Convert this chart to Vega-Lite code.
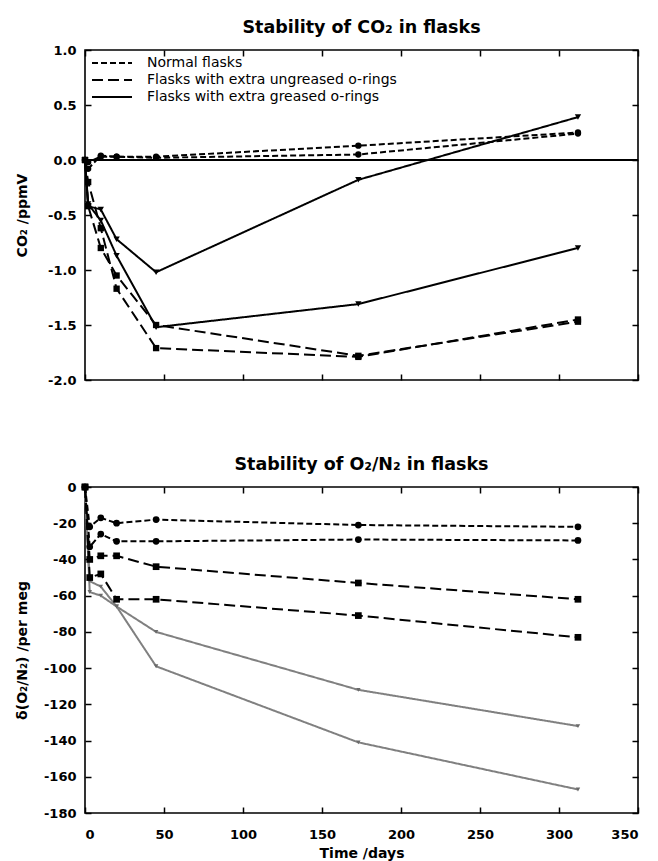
{
  "$schema": "https://vega.github.io/schema/vega-lite/v6.json",
  "padding": {"left": 14, "top": 17, "right": 10, "bottom": 5},
  "background": "white",
  "config": {
    "font": "DejaVu Sans",
    "view": {"stroke": "black", "strokeWidth": 1.6},
    "axis": {"labelFont": "DejaVu Sans", "labelFontWeight": "bold", "labelFontSize": 13, "labelColor": "black", "titleColor": "black", "titleFont": "DejaVu Sans", "titleFontWeight": "bold", "titleFontSize": 14, "tickColor": "black", "tickSize": -6, "tickWidth": 1.5, "domain": false, "grid": false, "labelPadding": 15},
    "title": {"fontSize": 17.5, "fontWeight": "bold", "color": "black", "offset": 8, "font": "DejaVu Sans"}
  },
  "datasets": {
    "co2": [
      {"type": "Flasks with extra greased o-rings", "flask": "G1", "day": 0, "value": 0},
      {"type": "Flasks with extra greased o-rings", "flask": "G1", "day": 2, "value": -0.42},
      {"type": "Flasks with extra greased o-rings", "flask": "G1", "day": 10, "value": -0.45},
      {"type": "Flasks with extra greased o-rings", "flask": "G1", "day": 20, "value": -0.72},
      {"type": "Flasks with extra greased o-rings", "flask": "G1", "day": 45, "value": -1.02},
      {"type": "Flasks with extra greased o-rings", "flask": "G1", "day": 173, "value": -0.18},
      {"type": "Flasks with extra greased o-rings", "flask": "G1", "day": 312, "value": 0.39},
      {"type": "Flasks with extra greased o-rings", "flask": "G2", "day": 0, "value": 0},
      {"type": "Flasks with extra greased o-rings", "flask": "G2", "day": 2, "value": -0.4},
      {"type": "Flasks with extra greased o-rings", "flask": "G2", "day": 10, "value": -0.55},
      {"type": "Flasks with extra greased o-rings", "flask": "G2", "day": 20, "value": -0.87},
      {"type": "Flasks with extra greased o-rings", "flask": "G2", "day": 45, "value": -1.52},
      {"type": "Flasks with extra greased o-rings", "flask": "G2", "day": 173, "value": -1.31},
      {"type": "Flasks with extra greased o-rings", "flask": "G2", "day": 312, "value": -0.8},
      {"type": "Flasks with extra ungreased o-rings", "flask": "U1", "day": 0, "value": 0},
      {"type": "Flasks with extra ungreased o-rings", "flask": "U1", "day": 2, "value": -0.2},
      {"type": "Flasks with extra ungreased o-rings", "flask": "U1", "day": 10, "value": -0.62},
      {"type": "Flasks with extra ungreased o-rings", "flask": "U1", "day": 20, "value": -1.17},
      {"type": "Flasks with extra ungreased o-rings", "flask": "U1", "day": 45, "value": -1.71},
      {"type": "Flasks with extra ungreased o-rings", "flask": "U1", "day": 173, "value": -1.79},
      {"type": "Flasks with extra ungreased o-rings", "flask": "U1", "day": 312, "value": -1.45},
      {"type": "Flasks with extra ungreased o-rings", "flask": "U2", "day": 0, "value": 0},
      {"type": "Flasks with extra ungreased o-rings", "flask": "U2", "day": 2, "value": -0.42},
      {"type": "Flasks with extra ungreased o-rings", "flask": "U2", "day": 10, "value": -0.8},
      {"type": "Flasks with extra ungreased o-rings", "flask": "U2", "day": 20, "value": -1.05},
      {"type": "Flasks with extra ungreased o-rings", "flask": "U2", "day": 45, "value": -1.5},
      {"type": "Flasks with extra ungreased o-rings", "flask": "U2", "day": 173, "value": -1.78},
      {"type": "Flasks with extra ungreased o-rings", "flask": "U2", "day": 312, "value": -1.47},
      {"type": "Normal flasks", "flask": "N1", "day": 0, "value": 0},
      {"type": "Normal flasks", "flask": "N1", "day": 2, "value": -0.08},
      {"type": "Normal flasks", "flask": "N1", "day": 10, "value": 0.04},
      {"type": "Normal flasks", "flask": "N1", "day": 20, "value": 0.03},
      {"type": "Normal flasks", "flask": "N1", "day": 45, "value": 0.03},
      {"type": "Normal flasks", "flask": "N1", "day": 173, "value": 0.13},
      {"type": "Normal flasks", "flask": "N1", "day": 312, "value": 0.25},
      {"type": "Normal flasks", "flask": "N2", "day": 0, "value": 0},
      {"type": "Normal flasks", "flask": "N2", "day": 2, "value": -0.02},
      {"type": "Normal flasks", "flask": "N2", "day": 10, "value": 0.03},
      {"type": "Normal flasks", "flask": "N2", "day": 20, "value": 0.03},
      {"type": "Normal flasks", "flask": "N2", "day": 45, "value": 0.02},
      {"type": "Normal flasks", "flask": "N2", "day": 173, "value": 0.05},
      {"type": "Normal flasks", "flask": "N2", "day": 312, "value": 0.24}
    ],
    "o2": [
      {"type": "Flasks with extra greased o-rings", "flask": "G1", "day": 0, "value": 0},
      {"type": "Flasks with extra greased o-rings", "flask": "G1", "day": 3, "value": -52},
      {"type": "Flasks with extra greased o-rings", "flask": "G1", "day": 10, "value": -55},
      {"type": "Flasks with extra greased o-rings", "flask": "G1", "day": 20, "value": -66},
      {"type": "Flasks with extra greased o-rings", "flask": "G1", "day": 45, "value": -80},
      {"type": "Flasks with extra greased o-rings", "flask": "G1", "day": 173, "value": -112},
      {"type": "Flasks with extra greased o-rings", "flask": "G1", "day": 312, "value": -132},
      {"type": "Flasks with extra greased o-rings", "flask": "G2", "day": 0, "value": 0},
      {"type": "Flasks with extra greased o-rings", "flask": "G2", "day": 3, "value": -58},
      {"type": "Flasks with extra greased o-rings", "flask": "G2", "day": 10, "value": -60},
      {"type": "Flasks with extra greased o-rings", "flask": "G2", "day": 20, "value": -66},
      {"type": "Flasks with extra greased o-rings", "flask": "G2", "day": 45, "value": -99},
      {"type": "Flasks with extra greased o-rings", "flask": "G2", "day": 173, "value": -141},
      {"type": "Flasks with extra greased o-rings", "flask": "G2", "day": 312, "value": -167},
      {"type": "Flasks with extra ungreased o-rings", "flask": "U1", "day": 0, "value": 0},
      {"type": "Flasks with extra ungreased o-rings", "flask": "U1", "day": 3, "value": -40},
      {"type": "Flasks with extra ungreased o-rings", "flask": "U1", "day": 10, "value": -38},
      {"type": "Flasks with extra ungreased o-rings", "flask": "U1", "day": 20, "value": -38},
      {"type": "Flasks with extra ungreased o-rings", "flask": "U1", "day": 45, "value": -44},
      {"type": "Flasks with extra ungreased o-rings", "flask": "U1", "day": 173, "value": -53},
      {"type": "Flasks with extra ungreased o-rings", "flask": "U1", "day": 312, "value": -62},
      {"type": "Flasks with extra ungreased o-rings", "flask": "U2", "day": 0, "value": 0},
      {"type": "Flasks with extra ungreased o-rings", "flask": "U2", "day": 3, "value": -50},
      {"type": "Flasks with extra ungreased o-rings", "flask": "U2", "day": 10, "value": -48},
      {"type": "Flasks with extra ungreased o-rings", "flask": "U2", "day": 20, "value": -62},
      {"type": "Flasks with extra ungreased o-rings", "flask": "U2", "day": 45, "value": -62},
      {"type": "Flasks with extra ungreased o-rings", "flask": "U2", "day": 173, "value": -71},
      {"type": "Flasks with extra ungreased o-rings", "flask": "U2", "day": 312, "value": -83},
      {"type": "Normal flasks", "flask": "N1", "day": 0, "value": 0},
      {"type": "Normal flasks", "flask": "N1", "day": 3, "value": -22},
      {"type": "Normal flasks", "flask": "N1", "day": 10, "value": -17},
      {"type": "Normal flasks", "flask": "N1", "day": 20, "value": -20},
      {"type": "Normal flasks", "flask": "N1", "day": 45, "value": -18},
      {"type": "Normal flasks", "flask": "N1", "day": 173, "value": -21},
      {"type": "Normal flasks", "flask": "N1", "day": 312, "value": -22},
      {"type": "Normal flasks", "flask": "N2", "day": 0, "value": 0},
      {"type": "Normal flasks", "flask": "N2", "day": 3, "value": -33},
      {"type": "Normal flasks", "flask": "N2", "day": 10, "value": -26},
      {"type": "Normal flasks", "flask": "N2", "day": 20, "value": -30},
      {"type": "Normal flasks", "flask": "N2", "day": 45, "value": -30},
      {"type": "Normal flasks", "flask": "N2", "day": 173, "value": -29},
      {"type": "Normal flasks", "flask": "N2", "day": 312, "value": -29.5}
    ]
  },
  "spacing": 66,
  "vconcat": [
    {
      "title": "Stability of CO₂ in flasks",
      "width": 553,
      "height": 330,
      "data": {"name": "co2"},
      "layer": [
        {
          "mark": {"type": "rule", "color": "black", "strokeWidth": 1.5},
          "encoding": {"y": {"datum": 0, "type": "quantitative", "axis": null}}
        },
        {
          "mark": {"type": "line", "color": "black", "strokeWidth": 2},
          "encoding": {
            "x": {"field": "day", "type": "quantitative", "scale": {"domain": [0, 350], "nice": false}, "axis": {"orient": "bottom", "values": [0, 50, 100, 150, 200, 250, 300, 350], "labels": false, "title": null}},
            "y": {"field": "value", "type": "quantitative", "scale": {"domain": [-2, 1], "nice": false}, "axis": {"orient": "left", "values": [-2, -1.5, -1, -0.5, 0, 0.5, 1], "format": ".1f", "labelExpr": "replace(datum.label, '\u2212', '-')", "title": "CO₂ /ppmV", "titlePadding": 18}},
            "detail": {"field": "flask"},
            "strokeDash": {
              "field": "type", "type": "nominal",
              "scale": {"domain": ["Normal flasks", "Flasks with extra ungreased o-rings", "Flasks with extra greased o-rings"], "range": [[6, 3], [11, 5], [1, 0]]},
              "legend": {
                "title": null, "orient": "top-left", "offset": 6, "padding": 0,
                "symbolType": "stroke", "symbolSize": 1600, "clipHeight": 14,
                "symbolStrokeColor": "black", "symbolStrokeWidth": 2,
                "labelOffset": 14, "labelFontSize": 14, "labelFont": "DejaVu Sans", "labelColor": "black", "rowPadding": 3, "labelLimit": 400
              }
            }
          }
        },
        {
          "mark": {"type": "point", "filled": true, "opacity": 1, "color": "black", "size": 40},
          "encoding": {
            "x": {"field": "day", "type": "quantitative", "axis": null},
            "y": {"field": "value", "type": "quantitative", "axis": null},
            "shape": {"condition": [{"test": "datum.type === 'Normal flasks'", "value": "circle"}, {"test": "datum.type === 'Flasks with extra ungreased o-rings'", "value": "square"}], "value": "triangle-down"}
          }
        },
        {
          "mark": {"type": "point", "opacity": 0},
          "encoding": {
            "x": {"field": "day", "type": "quantitative", "axis": {"orient": "top", "values": [0, 50, 100, 150, 200, 250, 300, 350], "labels": false, "title": null}},
            "y": {"field": "value", "type": "quantitative", "axis": {"orient": "right", "values": [-2, -1.5, -1, -0.5, 0, 0.5, 1], "labels": false, "title": null}}
          }
        }
      ],
      "resolve": {"axis": {"x": "independent", "y": "independent"}}
    },
    {
      "title": "Stability of O₂/N₂ in flasks",
      "width": 553,
      "height": 326,
      "data": {"name": "o2"},
      "layer": [
        {
          "mark": {"type": "line", "strokeWidth": 2},
          "encoding": {
            "x": {"field": "day", "type": "quantitative", "scale": {"domain": [0, 350], "nice": false}, "axis": {"orient": "bottom", "values": [0, 50, 100, 150, 200, 250, 300, 350], "title": "Time /days", "labelPadding": 21, "titlePadding": 5}},
            "y": {"field": "value", "type": "quantitative", "scale": {"domain": [-180, 0], "nice": false}, "axis": {"orient": "left", "values": [-180, -160, -140, -120, -100, -80, -60, -40, -20, 0], "labelExpr": "replace(datum.label, '\u2212', '-')", "title": "δ(O₂/N₂) /per meg", "titlePadding": 14}},
            "detail": {"field": "flask"},
            "color": {"condition": {"test": "datum.type === 'Flasks with extra greased o-rings'", "value": "#808080"}, "value": "black"},
            "strokeDash": {"field": "type", "type": "nominal", "scale": {"domain": ["Normal flasks", "Flasks with extra ungreased o-rings", "Flasks with extra greased o-rings"], "range": [[6, 3], [11, 5], [1, 0]]}, "legend": null}
          }
        },
        {
          "mark": {"type": "point", "filled": true, "opacity": 1},
          "encoding": {
            "x": {"field": "day", "type": "quantitative", "axis": null},
            "y": {"field": "value", "type": "quantitative", "axis": null},
            "color": {"condition": {"test": "datum.type === 'Flasks with extra greased o-rings'", "value": "#6a6a6a"}, "value": "black"},
            "size": {"condition": {"test": "datum.type === 'Flasks with extra greased o-rings'", "value": 20}, "value": 45},
            "shape": {"condition": [{"test": "datum.type === 'Normal flasks'", "value": "circle"}, {"test": "datum.type === 'Flasks with extra ungreased o-rings'", "value": "square"}], "value": "triangle-down"}
          }
        },
        {
          "mark": {"type": "point", "opacity": 0},
          "encoding": {
            "x": {"field": "day", "type": "quantitative", "axis": {"orient": "top", "values": [0, 50, 100, 150, 200, 250, 300, 350], "labels": false, "title": null}},
            "y": {"field": "value", "type": "quantitative", "axis": {"orient": "right", "values": [-180, -160, -140, -120, -100, -80, -60, -40, -20, 0], "labels": false, "title": null}}
          }
        }
      ],
      "resolve": {"axis": {"x": "independent", "y": "independent"}}
    }
  ],
  "resolve": {"scale": {"x": "independent", "y": "independent", "strokeDash": "independent"}}
}
